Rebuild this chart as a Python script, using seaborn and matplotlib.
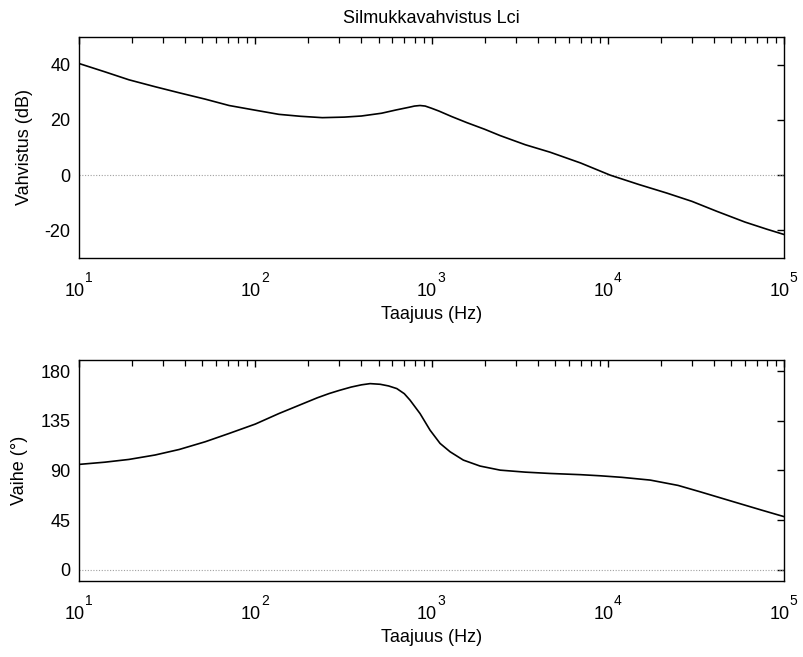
import numpy as np
import pandas as pd
import matplotlib
matplotlib.use("Agg")
import matplotlib.pyplot as plt
import seaborn as sns
from matplotlib.ticker import LogLocator, FixedLocator, NullLocator, NullFormatter

# Gain (magnitude) data
gain_freq = [10, 14, 19.2, 27, 37, 52, 71, 100, 136, 180, 240, 320, 400, 520, 630,
             750, 800, 860, 920, 1000, 1100, 1300, 1585, 2000, 2450, 3400, 4700, 7000,
             10300, 15000, 21600, 30000, 41500, 60000, 80000, 100000]
gain_db = [40.4, 37.4, 34.5, 32.0, 29.8, 27.5, 25.2, 23.5, 22.0, 21.3, 20.8, 21.0, 21.4,
           22.4, 23.6, 24.6, 25.0, 25.2, 25.0, 24.2, 23.2, 21.2, 19.0, 16.6, 14.3, 11.0,
           8.3, 4.4, 0.0, -3.4, -6.5, -9.5, -13.1, -17.0, -19.6, -21.5]

# Phase data
phase_freq = [10, 14, 19.2, 27, 37, 52, 71, 100, 136, 190, 225, 262, 300, 350, 400, 448,
              511, 570, 635, 700, 755, 860, 980, 1117, 1274, 1514, 1884, 2450, 3400,
              4700, 7000, 9040, 12000, 17400, 25000, 33400, 51600, 75000, 100000]
phase_deg = [95.5, 97.5, 100, 104, 109, 116, 123.5, 132, 141.5, 151, 155.8, 159.6, 162.5,
             165.5, 167.5, 168.6, 168.0, 166.5, 164.1, 159.5, 153.6, 141.5, 126.5, 114.5,
             106.9, 99.4, 94.0, 90.3, 88.5, 87.3, 86.2, 85.2, 83.8, 81.3, 76.5, 70.7,
             61.7, 54, 48.2]

title = "Silmukkavahvistus Lci"
xlabel = "Taajuus (Hz)"
ylabel_gain = "Vahvistus (dB)"
ylabel_phase = "Vaihe (°)"
gain_ticks = [-20, 0, 20, 40]
phase_ticks = [0, 45, 90, 135, 180]
decade_ticks = [10, 100, 1000, 10000, 100000]
decade_exps = ["1", "2", "3", "4", "5"]

sns.set_theme(style="white")
plt.rcParams["font.family"] = ["Liberation Sans", "DejaVu Sans"]
plt.rcParams["axes.unicode_minus"] = False

fig = plt.figure(figsize=(8.04, 6.57), dpi=100)
ax1 = fig.add_axes([0.0983, 0.6073, 0.877, 0.3364])
ax2 = fig.add_axes([0.0983, 0.1157, 0.877, 0.3364])

df_g = pd.DataFrame({"f": gain_freq, "v": gain_db})
df_p = pd.DataFrame({"f": phase_freq, "v": phase_deg})

FS = 13
for ax, df, ylim, yticks, ylab, ylx in [
    (ax1, df_g, (-30, 50), gain_ticks, ylabel_gain, -0.0648),
    (ax2, df_p, (-10, 190), phase_ticks, ylabel_phase, -0.0717),
]:
    ax.axhline(0, color="#a0a0a0", lw=0.8, ls=(0, (1, 1.5)), zorder=1)
    sns.lineplot(data=df, x="f", y="v", ax=ax, color="black", lw=1.2, zorder=3)
    ax.set_xscale("log")
    ax.set_xlim(10, 1e5)
    ax.set_ylim(*ylim)
    ax.yaxis.set_major_locator(FixedLocator(yticks))
    ax.yaxis.set_minor_locator(NullLocator())
    ax.xaxis.set_major_locator(FixedLocator(decade_ticks))
    ax.xaxis.set_major_formatter(NullFormatter())
    ax.xaxis.set_minor_locator(LogLocator(base=10, subs=np.arange(2, 10), numticks=20))
    ax.xaxis.set_minor_formatter(NullFormatter())
    ax.tick_params(axis="both", which="both", direction="in", top=True, right=True,
                   color="black", labelsize=FS, labelcolor="black")
    ax.tick_params(axis="both", which="major", length=5, width=1)
    ax.tick_params(axis="x", which="minor", length=4, width=0.9)
    ax.tick_params(axis="y", which="major", pad=6)
    for s in ax.spines.values():
        s.set_color("black")
        s.set_linewidth(1.0)
        s.set_visible(True)
    # decade labels: "10" with raised exponent
    for t, e in zip(decade_ticks, decade_exps):
        ax.annotate("10", xy=(t, 0), xycoords=("data", "axes fraction"),
                    xytext=(5.5, -38), textcoords="offset pixels",
                    ha="right", va="baseline", fontsize=FS, color="black",
                    annotation_clip=False)
        ax.annotate(e, xy=(t, 0), xycoords=("data", "axes fraction"),
                    xytext=(5.5, -24), textcoords="offset pixels",
                    ha="left", va="baseline", fontsize=10, color="black",
                    annotation_clip=False)
    ax.set_xlabel(xlabel, fontsize=FS, color="black")
    ax.xaxis.set_label_coords(0.5, -0.215)
    ax.set_ylabel(ylab, fontsize=FS, color="black")
    ax.yaxis.set_label_coords(ylx, 0.5)

ax1.set_title(title, fontsize=FS, color="black", pad=10)

fig.savefig("out.png", dpi=100, facecolor="white")
